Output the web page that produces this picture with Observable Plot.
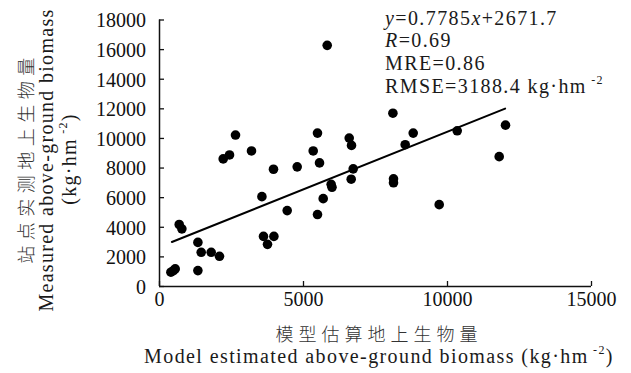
<!DOCTYPE html>
<html><head><meta charset="utf-8">
<script src="https://cdn.jsdelivr.net/npm/d3@7"></script>
<script src="https://cdn.jsdelivr.net/npm/@observablehq/plot@0.6"></script>
<style>body{margin:0;background:#fff}</style>
</head><body><div id="chart"></div>
<script>
// Model estimated (x) vs measured (y) above-ground biomass, kg·hm^-2
const estimated = [396, 486, 545, 684, 777, 1333, 1448, 1333, 1795, 2083, 2212, 2431, 2639, 3194, 3556, 3611, 3750, 3972, 3958, 4434, 4781, 5337, 5486, 5556, 5486, 5684, 5823, 5960, 5990, 6587, 6667, 6726, 6656, 8104, 8125, 8125, 8531, 8809, 9712, 10337, 11795, 12014];
const measured  = [966, 1074, 1188, 4188, 3893, 2980, 2309, 1074, 2309, 2040, 8617, 8886, 10228, 9154, 6067, 3383, 2846, 3383, 7919, 5128, 8080, 9154, 10362, 8349, 4859, 5933, 16289, 6900, 6700, 10026, 9530, 7946, 7248, 11705, 7275, 7006, 9577, 10362, 5530, 10517, 8772, 10899];
// regression line end points
const fitX = [430, 12000];
const fitY = [3006, 12014];
const xTicks = [0, 5000, 10000, 15000];
const yTicks = [0, 2000, 4000, 6000, 8000, 10000, 12000, 14000, 16000, 18000];
const xLabelZh = "模型估算地上生物量";
const xLabelEn = "Model estimated above-ground biomass (kg·hm";
const yLabelZh = "站点实测地上生物量";
const yLabelEn = "Measured above-ground biomass";
const yLabelUnit = "(kg·hm";
const statsText = ["0.7785", "2671.7", "0.69", "0.86", "3188.4"];

const points = estimated.map((x, i) => ({x, y: measured[i]}));
const fit = fitX.map((x, i) => ({x, y: fitY[i]}));
const serif = "'Liberation Serif','Times New Roman',serif";
const W = 631, H = 373, mL = 159, mR = 40, mT = 19.5, mB = 87;
const fw = W - mL - mR, fh = H - mT - mB;

const plot = Plot.plot({
  width: W, height: H, marginLeft: mL, marginRight: mR, marginTop: mT, marginBottom: mB,
  style: {fontFamily: serif, fontSize: "20px", background: "#fff", color: "#111", overflow: "visible"},
  x: {domain: [0, 15000], axis: null},
  y: {domain: [0, 18000], axis: null},
  marks: [
    Plot.tickX(xTicks, {x: d => d, insetTop: fh - 5, stroke: "#111", strokeWidth: 1.3}),
    Plot.tickY(yTicks, {y: d => d, insetRight: fw - 5, stroke: "#111", strokeWidth: 1.3}),
    Plot.ruleX([0], {stroke: "#111", strokeWidth: 1.5}),
    Plot.ruleY([0], {stroke: "#111", strokeWidth: 1.5}),
    Plot.text(xTicks, {x: d => d, frameAnchor: "bottom", dy: 19, text: d => String(d), fill: "#111", style: "letter-spacing:1.9px"}),
    Plot.text(yTicks, {y: d => d, frameAnchor: "left", dx: -13.5, dy: 1, textAnchor: "end", text: d => String(d), fill: "#111", style: "letter-spacing:1.9px"}),
    Plot.dot(points, {x: "x", y: "y", r: 4.8, fill: "#000", stroke: "none"}),
    Plot.line(fit, {x: "x", y: "y", stroke: "#000", strokeWidth: 2})
  ]
});
document.getElementById("chart").append(plot);

const svg = d3.select(plot);
const g = svg.append("g").attr("font-family", serif).attr("fill", "#1a1a1a").attr("text-anchor", "start");
const cjk = "'Noto Sans CJK SC','Noto Sans CJK JP',sans-serif";

// stats annotation
const ax = 385;
const ls = "1.4px";
let t = g.append("text").attr("x", ax).attr("y", 25).attr("font-size", 20).style("letter-spacing", ls);
t.append("tspan").attr("font-style", "italic").text("y");
t.append("tspan").text("=" + statsText[0]);
t.append("tspan").attr("font-style", "italic").text("x");
t.append("tspan").text("+" + statsText[1]);
t = g.append("text").attr("x", ax).attr("y", 47).attr("font-size", 20).style("letter-spacing", ls);
t.append("tspan").attr("font-style", "italic").text("R");
t.append("tspan").text("=" + statsText[2]);
g.append("text").attr("x", ax).attr("y", 70).attr("font-size", 20).style("letter-spacing", ls).text("MRE=" + statsText[3]);
t = g.append("text").attr("x", ax).attr("y", 93).attr("font-size", 20).style("letter-spacing", ls);
t.append("tspan").text("RMSE=" + statsText[4] + " kg·hm");
t.append("tspan").attr("font-size", 12).attr("dy", -9).text(" -2");

// x labels
g.append("text").attr("x", 379).attr("y", 341).attr("text-anchor", "middle")
  .attr("font-family", cjk).attr("font-size", 18).attr("font-weight", 300).attr("fill", "#333")
  .style("letter-spacing", "5px").text(xLabelZh);
t = g.append("text").attr("x", 379).attr("y", 363).attr("text-anchor", "middle").attr("font-size", 20).style("letter-spacing", "1.4px");
t.append("tspan").text(xLabelEn);
t.append("tspan").attr("font-size", 12).attr("dy", -9).text(" -2");
t.append("tspan").attr("dy", 9).text(")");

// y labels
g.append("text").attr("transform", "translate(33,158) rotate(-90)").attr("text-anchor", "middle")
  .attr("font-family", cjk).attr("font-size", 18).attr("font-weight", 300).attr("fill", "#333")
  .style("letter-spacing", "5.5px").text(yLabelZh);
g.append("text").attr("transform", "translate(53,160) rotate(-90)").attr("text-anchor", "middle")
  .attr("font-size", 20).style("letter-spacing", "1.3px").text(yLabelEn);
t = g.append("text").attr("transform", "translate(76,159) rotate(-90)").attr("text-anchor", "middle").attr("font-size", 20).style("letter-spacing", "1.3px");
t.append("tspan").text(yLabelUnit);
t.append("tspan").attr("font-size", 12).attr("dy", -9).text(" -2");
t.append("tspan").attr("dy", 9).text(")");
</script>
</body></html>
